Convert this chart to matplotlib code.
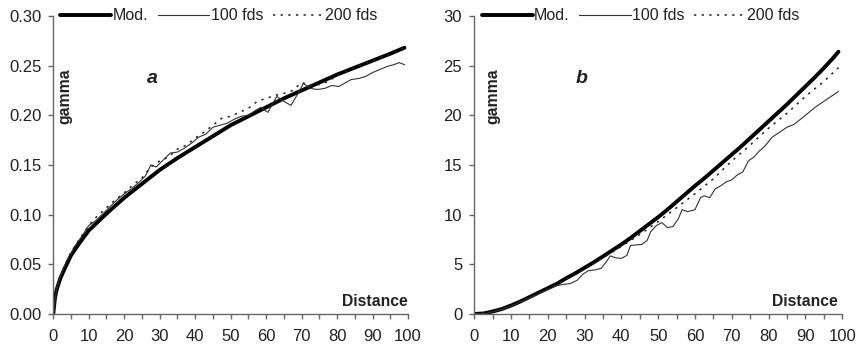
import matplotlib
matplotlib.use("Agg")
import matplotlib.pyplot as plt
from matplotlib.ticker import MultipleLocator, FormatStrFormatter

plt.rcParams['font.family'] = ['Liberation Sans', 'DejaVu Sans']

# panel a
mod_a_x = [0, 0.5, 1, 2, 3, 5, 7.5, 10, 15, 20, 25, 30, 35, 40, 45, 50, 55, 60,
           65, 70, 75, 80, 85, 90, 95, 99]
mod_a_y = [0.0, 0.017, 0.025, 0.036, 0.044, 0.059, 0.072, 0.084, 0.101, 0.117,
           0.131, 0.145, 0.157, 0.168, 0.179, 0.190, 0.199, 0.208, 0.217, 0.225,
           0.233, 0.241, 0.248, 0.255, 0.262, 0.268]

fds100_a_x = [0, 1, 2, 3, 4, 5, 6, 8, 10, 12, 14, 16, 18, 20, 22, 24, 26, 27.5,
              29, 31, 33, 35, 37, 39, 41, 43, 45, 47, 49, 51, 53, 55, 57, 58.5,
              60.5, 63, 65, 67, 69, 70.5, 72.5, 74.5, 76.5, 78.5, 80.5, 82, 84,
              86, 88, 90, 92, 94, 96, 97.5, 99]
fds100_a_y = [0.0, 0.027, 0.038, 0.047, 0.055, 0.061, 0.068, 0.078, 0.089, 0.094,
              0.101, 0.108, 0.115, 0.121, 0.126, 0.132, 0.139, 0.150, 0.148,
              0.155, 0.162, 0.163, 0.167, 0.172, 0.178, 0.181, 0.188, 0.190,
              0.192, 0.196, 0.199, 0.200, 0.205, 0.208, 0.203, 0.219, 0.214,
              0.210, 0.222, 0.232, 0.227, 0.226, 0.227, 0.230, 0.229, 0.232,
              0.236, 0.237, 0.239, 0.243, 0.246, 0.249, 0.251, 0.253, 0.251]

fds200_a_x = [0, 1, 2, 3, 5, 7.5, 10, 12.5, 15, 17.5, 20, 22.5, 25, 27.5, 30,
              32.5, 35, 37.5, 40, 42.5, 45, 47.5, 50, 52.5, 55, 57.5, 60, 62.5,
              65, 67.5, 70, 72.5, 75, 77.5, 80, 85, 90, 95, 99]
fds200_a_y = [0.0, 0.027, 0.038, 0.047, 0.062, 0.076, 0.089, 0.099, 0.107, 0.115,
              0.122, 0.130, 0.137, 0.148, 0.154, 0.158, 0.166, 0.170, 0.177,
              0.183, 0.190, 0.197, 0.199, 0.203, 0.207, 0.214, 0.217, 0.220,
              0.222, 0.225, 0.233, 0.230, 0.231, 0.234, 0.240, 0.248, 0.255,
              0.262, 0.268]

# panel b
mod_b_x = [0, 2.5, 5, 7.5, 10, 12.5, 15, 17.5, 20, 22.5, 25, 27.5, 30, 32.5, 35,
           37.5, 40, 42.5, 45, 47.5, 50, 52.5, 55, 57.5, 60, 62.5, 65, 67.5, 70,
           72.5, 75, 77.5, 80, 82.5, 85, 87.5, 90, 92.5, 95, 97.5, 99]
mod_b_y = [0.0, 0.05, 0.25, 0.5, 0.85, 1.25, 1.7, 2.15, 2.6, 3.05, 3.6, 4.1, 4.65,
           5.2, 5.8, 6.4, 7.0, 7.65, 8.35, 9.05, 9.75, 10.5, 11.3, 12.1, 12.9,
           13.65, 14.45, 15.25, 16.05, 16.85, 17.7, 18.55, 19.4, 20.25, 21.1,
           22.0, 22.9, 23.8, 24.75, 25.75, 26.4]

fds100_b_x = [0, 2.5, 5, 7.5, 10, 12.5, 15, 17.5, 20, 22.5, 24.5, 26, 28, 29.5,
              31, 33, 34.5, 36, 37, 38.5, 40, 41.5, 42.5, 44, 45.5, 47, 48, 49.5,
              51, 52.5, 54, 55.5, 56.5, 58, 60, 61.5, 62.5, 64, 65.5, 67, 68.5,
              70, 71.5, 73, 74.5, 76, 77.5, 79, 81, 83, 85, 87, 89, 91, 93, 95,
              97, 99]
fds100_b_y = [0.0, 0.0, 0.2, 0.45, 0.8, 1.2, 1.6, 2.05, 2.45, 2.85, 3.0, 3.05, 3.4,
              4.0, 4.35, 4.45, 4.6, 5.3, 5.85, 5.65, 5.6, 5.9, 6.9, 6.95, 7.0,
              7.4, 8.3, 8.9, 9.2, 8.7, 8.8, 9.6, 10.5, 10.3, 10.5, 11.7, 11.9,
              11.7, 12.6, 12.9, 13.3, 13.5, 14.0, 14.3, 15.4, 15.8, 16.4, 16.9,
              17.8, 18.3, 18.8, 19.1, 19.7, 20.3, 20.9, 21.4, 21.9, 22.4]

fds200_b_x = [0, 5, 10, 15, 20, 25, 30, 35, 40, 45, 50, 55, 60, 65, 70, 75, 80,
              85, 90, 95, 99]
fds200_b_y = [0.0, 0.25, 0.85, 1.65, 2.55, 3.5, 4.55, 5.65, 6.8, 8.0, 9.3, 10.7,
              12.1, 13.6, 15.4, 17.0, 18.7, 20.2, 21.9, 23.4, 24.8]

axis_col = '#666666'
text_col = '#222222'

fig = plt.figure(figsize=(8.59, 3.49), dpi=100)
ax_a = fig.add_axes([0.062, 0.1003, 0.413, 0.854])
ax_b = fig.add_axes([0.552, 0.1003, 0.4284, 0.854])


def style_axes(ax, ymax, ystep, yfmt):
    ax.set_xlim(0, 100)
    ax.set_ylim(0, ymax)
    for side in ['top', 'right']:
        ax.spines[side].set_visible(False)
    for side in ['left', 'bottom']:
        ax.spines[side].set_color(axis_col)
        ax.spines[side].set_linewidth(1.0)
    ax.xaxis.set_major_locator(MultipleLocator(10))
    ax.xaxis.set_minor_locator(MultipleLocator(5))
    ax.yaxis.set_major_locator(MultipleLocator(ystep))
    ax.yaxis.set_major_formatter(FormatStrFormatter(yfmt))
    ax.tick_params(which='both', direction='out', length=3.6, width=1.0,
                   color=axis_col, labelsize=12, labelcolor=text_col)
    ax.tick_params(axis='x', pad=7)
    ax.tick_params(axis='y', pad=5)


def draw(ax, mx, my, x1, y1, x2, y2):
    ax.plot(mx, my, color='black', lw=2.8, label='Mod.', solid_capstyle='round')
    ax.plot(x1, y1, color='#333333', lw=0.8, label='100 fds')
    ax.plot(x2, y2, color='#222222', lw=1.1, linestyle=(0, (1.5, 3.5)),
            label='200 fds')


draw(ax_a, mod_a_x, mod_a_y, fds100_a_x, fds100_a_y, fds200_a_x, fds200_a_y)
draw(ax_b, mod_b_x, mod_b_y, fds100_b_x, fds100_b_y, fds200_b_x, fds200_b_y)

style_axes(ax_a, 0.30, 0.05, '%.2f')
style_axes(ax_b, 30, 5, '%d')

for ax, lx, gx, letter, lxpos, dx in [(ax_a, 0.019, 0.033, 'a', 0.278, 1.0),
                                      (ax_b, 0.020, 0.052, 'b', 0.293, 0.988)]:
    ax.legend(loc='center left', bbox_to_anchor=(lx, 1.0), ncol=3,
              frameon=False, fontsize=11.5, handlelength=3.2,
              handletextpad=0.1, columnspacing=0.6, borderpad=0,
              borderaxespad=0, labelcolor=text_col)
    ax.text(gx, 0.73, 'gamma', transform=ax.transAxes, rotation=90,
            ha='center', va='center', fontsize=11.3, fontweight='bold',
            color=text_col)
    ax.text(dx, 0.041, 'Distance', transform=ax.transAxes, ha='right',
            va='center', fontsize=11.3, fontweight='bold', color=text_col)
    ax.text(lxpos, 0.775, letter, transform=ax.transAxes, ha='center',
            va='baseline', fontsize=14, fontweight='bold', style='italic',
            color=text_col)

fig.savefig('out.png', dpi=100)
